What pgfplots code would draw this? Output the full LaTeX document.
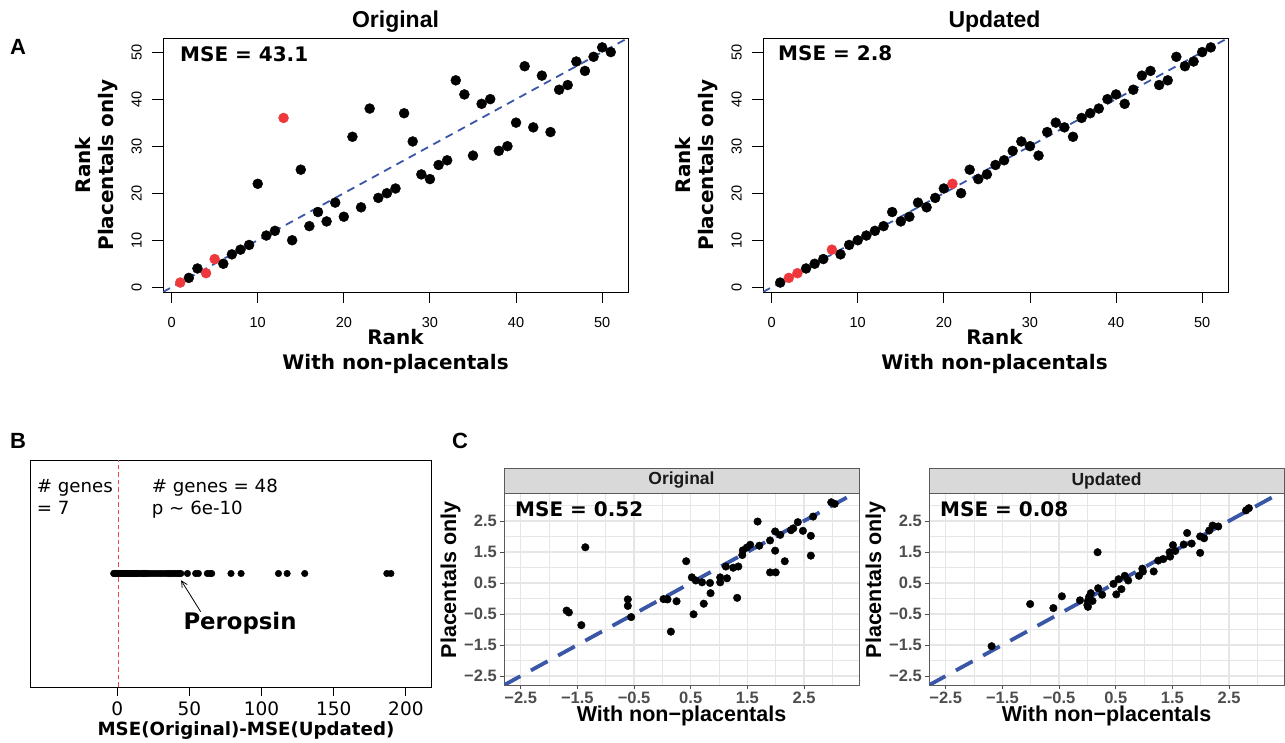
\documentclass[border=0pt]{standalone}
\usepackage{pgfplots}
\pgfplotsset{compat=1.18}
\usepackage{fontspec}
\setmainfont{DejaVu Sans}
\newfontfamily\arial{Liberation Sans}
\usetikzlibrary{arrows.meta}
\definecolor{rblue}{RGB}{58,86,166}
\definecolor{rred}{RGB}{238,56,60}
\definecolor{gridc}{RGB}{230,230,230}
\definecolor{tickc}{RGB}{77,77,77}
\definecolor{stripc}{RGB}{217,217,217}
\definecolor{borderc}{RGB}{90,90,90}
\definecolor{zeroline}{RGB}{242,70,80}

\pgfplotstableread{
x y
2 2
3 4
6 5
7 7
8 8
9 9
10 22
11 11
12 12
14 10
15 25
16 13
17 16
18 14
19 18
20 15
21 32
22 17
23 38
24 19
25 20
26 21
27 37
28 31
29 24
30 23
31 26
32 27
33 44
34 41
35 28
36 39
37 40
38 29
39 30
40 35
41 47
42 34
43 45
44 33
45 42
46 43
47 48
48 46
49 49
50 51
51 50
}\origblack
\pgfplotstableread{
x y
1 1
4 3
5 6
13 36
}\origred
\pgfplotstableread{
x y
1 1
4 4
5 5
6 6
8 7
9 9
10 10
11 11
12 12
13 13
14 16
15 14
16 15
17 18
18 17
19 19
20 21
22 20
23 25
24 23
25 24
26 26
27 27
28 29
29 31
30 30
31 28
32 33
33 35
34 34
35 32
36 36
37 37
38 38
39 40
40 41
41 39
42 42
43 45
44 46
45 43
46 44
47 49
48 47
49 48
50 50
51 51
}\updblack
\pgfplotstableread{
x y
2 2
3 3
7 8
21 22
}\updred
\pgfplotstableread{
x y
-2.5 0
-2.0 0
-1.6 0
-1.2 0
-0.8 0
-0.5 0
-0.2 0
0.5 0
1.2 0
2.0 0
3.0 0
3.8 0
4.5 0
5.5 0
6.5 0
7.5 0
8.5 0
9.5 0
10.5 0
11.5 0
12.5 0
13.5 0
14.5 0
16.0 0
17.5 0
18.5 0
19.0 0
20.5 0
22.0 0
24.0 0
26.0 0
28.0 0
30.0 0
32.0 0
34.0 0
35.5 0
37.0 0
38.5 0
40.0 0
41.5 0
43.0 0
44.0 0
48.6 0
54.3 0
56.2 0
62.4 0
64.3 0
65.4 0
78.8 0
85.8 0
111.7 0
117.7 0
129.9 0
186.8 0
189.6 0
}\msediff
\pgfplotstableread{
x y
2.98 3.10
3.04 3.05
1.68 2.48
2.66 2.64
2.39 2.46
2.31 2.26
2.27 2.20
2.48 2.18
1.99 2.16
2.08 2.05
2.62 2.02
1.90 1.87
1.55 1.73
1.49 1.64
1.71 1.70
1.42 1.55
1.41 1.40
1.99 1.54
2.62 1.38
-1.36 1.65
0.42 1.20
2.16 1.20
1.12 1.03
1.25 0.99
1.34 1.03
1.90 0.84
2.00 0.84
0.52 0.68
0.59 0.58
0.70 0.52
0.84 0.50
1.02 0.68
1.02 0.52
1.14 0.65
0.85 0.17
0.02 -0.02
0.08 -0.02
0.09 -0.03
0.25 -0.09
-0.61 -0.03
-0.61 -0.24
-0.55 -0.60
0.55 -0.51
0.73 -0.17
1.32 0.02
-1.69 -0.39
-1.65 -0.45
-1.43 -0.86
0.15 -1.07
}\corig
\pgfplotstableread{
x y
2.80 2.84
2.85 2.91
2.21 2.35
2.31 2.32
2.15 2.19
1.76 2.11
2.06 1.94
1.99 2.00
1.84 1.77
1.70 1.74
1.51 1.72
1.55 1.53
1.45 1.49
1.46 1.35
1.34 1.27
1.25 1.22
1.99 1.47
0.18 1.49
0.97 0.96
0.98 0.87
1.17 0.87
0.91 0.73
0.66 0.73
0.72 0.58
0.55 0.62
0.46 0.47
0.60 0.30
0.51 0.13
0.19 0.33
0.26 0.12
0.06 0.17
0.03 0.05
-0.13 -0.06
0.01 -0.08
0.09 -0.08
0.01 -0.27
0.00 -0.21
-0.45 0.07
-0.60 -0.31
-1.01 -0.18
-1.69 -1.54
}\cupd

\pgfplotsset{
  rA/.style={
    scale only axis, width=465pt, height=254pt,
    xmin=-1, xmax=53, ymin=-1, ymax=53,
    axis line style={black, line width=0.9pt},
    tick align=outside, tick pos=left, major tick length=11pt,
    tick style={black, line width=0.9pt},
    xtick={0,10,...,50}, ytick={0,10,...,50},
    /pgf/number format/assume math mode=true,
    ticklabel style={font=\arial\fontsize{14.5}{14.5}\selectfont, inner sep=0pt},
    xticklabel style={anchor=north},
    yticklabel style={rotate=90, anchor=south},
    xticklabel shift=14pt, yticklabel shift=10pt,
  },
  rC/.style={
    scale only axis, width=355pt, height=192pt,
    xmin=-2.795, xmax=3.47, ymin=-2.79, ymax=3.40,
    xtick={-2.5,-1.5,-0.5,0.5,1.5,2.5}, ytick={-2.5,-1.5,-0.5,0.5,1.5,2.5},
    xticklabels={−2.5,−1.5,−0.5,0.5,1.5,2.5},
    yticklabels={−2.5,−1.5,−0.5,0.5,1.5,2.5},
    minor xtick={-2,-1,0,1,2,3}, minor ytick={-2,-1,0,1,2,3},
    grid=both,
    major grid style={gridc, line width=1.2pt},
    minor grid style={gridc, line width=0.6pt},
    axis line style={borderc, line width=0.9pt},
    tick align=outside, tick pos=left, major tick length=4pt, minor tick length=0pt,
    tick style={tickc, line width=0.8pt},
    ticklabel style={font=\arial\bfseries\fontsize{16.5}{16.5}\selectfont, text=tickc, inner sep=0pt},
    xticklabel style={anchor=north}, yticklabel style={anchor=east},
    xticklabel shift=3pt, yticklabel shift=3pt,
  },
}

\begin{document}
\begin{tikzpicture}[x=1pt,y=1pt]
\useasboundingbox (0,0) rectangle (1285,743);

% ---------- Panel A, left ----------
\begin{axis}[rA, at={(163pt,451pt)}, anchor=south west]
\addplot[only marks, mark=*, mark size=5pt, black] table {\origblack};
\addplot[only marks, mark=*, mark size=5pt, rred, mark options={draw=rred, fill=rred}] table {\origred};
\addplot[rblue, line width=1.8pt, dash pattern=on 8pt off 6pt] coordinates {(-1,-1) (53,53)};
\end{axis}

% ---------- Panel A, right ----------
\begin{axis}[rA, at={(763pt,451pt)}, anchor=south west]
\addplot[only marks, mark=*, mark size=5pt, black] table {\updblack};
\addplot[only marks, mark=*, mark size=5pt, rred, mark options={draw=rred, fill=rred}] table {\updred};
\addplot[rblue, line width=1.8pt, dash pattern=on 8pt off 6pt] coordinates {(-1,-1) (53,53)};
\end{axis}

% ---------- Panel B ----------
\begin{axis}[scale only axis, width=401pt, height=227pt, at={(30pt,56pt)}, anchor=south west,
  xmin=-60.5, xmax=217.4, ymin=-1, ymax=1,
  axis line style={black, line width=0.9pt},
  xtick={0,50,...,200}, ytick=\empty,
  tick align=outside, xtick pos=left, major tick length=9pt,
  tick style={black, line width=0.9pt},
  /pgf/number format/assume math mode=true,
  ticklabel style={font=\fontsize{18.5}{18.5}\selectfont, inner sep=0pt},
  xticklabel style={anchor=north}, xticklabel shift=6pt,
  clip=false]
\draw[zeroline, line width=1.1pt, dash pattern=on 4.5pt off 3pt] (axis cs:0.6,-1) -- (axis cs:0.6,1);
\addplot[only marks, mark=*, mark size=3.3pt, black] table {\msediff};
\draw[black, line width=0.9pt] (axis cs:0,-1) -- (axis cs:200,-1);
\draw[black, line width=0.8pt, -{Straight Barb[length=6pt, width=6pt]}] (axis cs:57.8,-0.337) -- (axis cs:44.2,-0.06);
\end{axis}

% ---------- Panel C, left ----------
\begin{axis}[rC, at={(504pt,58pt)}, anchor=south west]
\addplot[only marks, mark=*, mark size=3.8pt, black] table {\corig};
\addplot[rblue, line width=3.8pt, dash pattern=on 19pt off 12pt] coordinates {(-2.8,-2.8) (3.3,3.3)};
\end{axis}
\draw[borderc, line width=0.9pt, fill=stripc] (504,250) rectangle (859,275);
\node[font=\arial\bfseries\fontsize{17.5}{17.5}\selectfont, text={rgb,255:red,26;green,26;blue,26}] at (681.5,262.5) {Original};

% ---------- Panel C, right ----------
\begin{axis}[rC, at={(929pt,58pt)}, anchor=south west]
\addplot[only marks, mark=*, mark size=3.8pt, black] table {\cupd};
\addplot[rblue, line width=3.8pt, dash pattern=on 19pt off 12pt] coordinates {(-2.8,-2.8) (3.3,3.3)};
\end{axis}
\draw[borderc, line width=0.9pt, fill=stripc] (929,250) rectangle (1284,275);
\node[font=\arial\bfseries\fontsize{17.5}{17.5}\selectfont, text={rgb,255:red,26;green,26;blue,26}] at (1106.5,262.5) {Updated};

% ---------- Text: panel letters ----------
\node[font=\arial\bfseries\fontsize{22}{22}\selectfont] at (18,696) {A};
\node[font=\arial\bfseries\fontsize{22}{22}\selectfont] at (18,302) {B};
\node[font=\arial\bfseries\fontsize{22}{22}\selectfont] at (460,302) {C};

% ---------- Text: panel A ----------
\node[font=\arial\bfseries\fontsize{23}{23}\selectfont, anchor=base] at (395.5,715) {Original};
\node[font=\arial\bfseries\fontsize{23}{23}\selectfont, anchor=base] at (994.5,715) {Updated};
\node[font=\bfseries\fontsize{20}{20}\selectfont, anchor=base west, inner sep=0pt] at (180,681.3) {MSE = 43.1};
\node[font=\bfseries\fontsize{20}{20}\selectfont, anchor=base west, inner sep=0pt] at (778,682) {MSE = 2.8};
\node[font=\bfseries\fontsize{20}{20}\selectfont, anchor=base, inner sep=0pt] at (395.5,398.7) {Rank};
\node[font=\bfseries\fontsize{20}{20}\selectfont, anchor=base, inner sep=0pt] at (395.5,373) {With non-placentals};
\node[font=\bfseries\fontsize{20}{20}\selectfont, anchor=base, inner sep=0pt] at (994.5,398.7) {Rank};
\node[font=\bfseries\fontsize{20}{20}\selectfont, anchor=base, inner sep=0pt] at (994.5,373) {With non-placentals};
\node[font=\bfseries\fontsize{20}{20}\selectfont, anchor=base, inner sep=0pt, rotate=90] at (90,578) {Rank};
\node[font=\bfseries\fontsize{20}{20}\selectfont, anchor=base, inner sep=0pt, rotate=90] at (113,578) {Placentals only};
\node[font=\bfseries\fontsize{20}{20}\selectfont, anchor=base, inner sep=0pt, rotate=90] at (690,578) {Rank};
\node[font=\bfseries\fontsize{20}{20}\selectfont, anchor=base, inner sep=0pt, rotate=90] at (713,578) {Placentals only};

% ---------- Text: panel B ----------
\node[font=\fontsize{18.2}{18.2}\selectfont, anchor=base west, inner sep=0pt] at (36.7,250.3) {\# genes};
\node[font=\fontsize{18.2}{18.2}\selectfont, anchor=base west, inner sep=0pt] at (36.7,228) {= 7};
\node[font=\fontsize{18.2}{18.2}\selectfont, anchor=base west, inner sep=0pt] at (151.7,250.3) {\# genes = 48};
\node[font=\fontsize{18.2}{18.2}\selectfont, anchor=base west, inner sep=0pt] at (151.7,228) {p \textasciitilde{} 6e-10};
\node[font=\bfseries\fontsize{22.8}{22.8}\selectfont, anchor=base west, inner sep=0pt] at (183.3,113) {Peropsin};
\node[font=\bfseries\fontsize{18.2}{18.2}\selectfont, anchor=base, inner sep=0pt] at (246,7) {MSE(Original)-MSE(Updated)};

% ---------- Text: panel C ----------
\node[font=\bfseries\fontsize{20}{20}\selectfont, anchor=base west, inner sep=0pt] at (515,226.3) {MSE = 0.52};
\node[font=\bfseries\fontsize{20}{20}\selectfont, anchor=base west, inner sep=0pt] at (940,226.3) {MSE = 0.08};
\node[font=\arial\bfseries\fontsize{21.5}{21.5}\selectfont, anchor=base, inner sep=0pt] at (681.5,21.3) {With non−placentals};
\node[font=\arial\bfseries\fontsize{21.5}{21.5}\selectfont, anchor=base, inner sep=0pt] at (1106.5,21.3) {With non−placentals};
\node[font=\arial\bfseries\fontsize{21.5}{21.5}\selectfont, anchor=base, inner sep=0pt, rotate=90] at (456,163) {Placentals only};
\node[font=\arial\bfseries\fontsize{21.5}{21.5}\selectfont, anchor=base, inner sep=0pt, rotate=90] at (881,163) {Placentals only};
\end{tikzpicture}
\end{document}
